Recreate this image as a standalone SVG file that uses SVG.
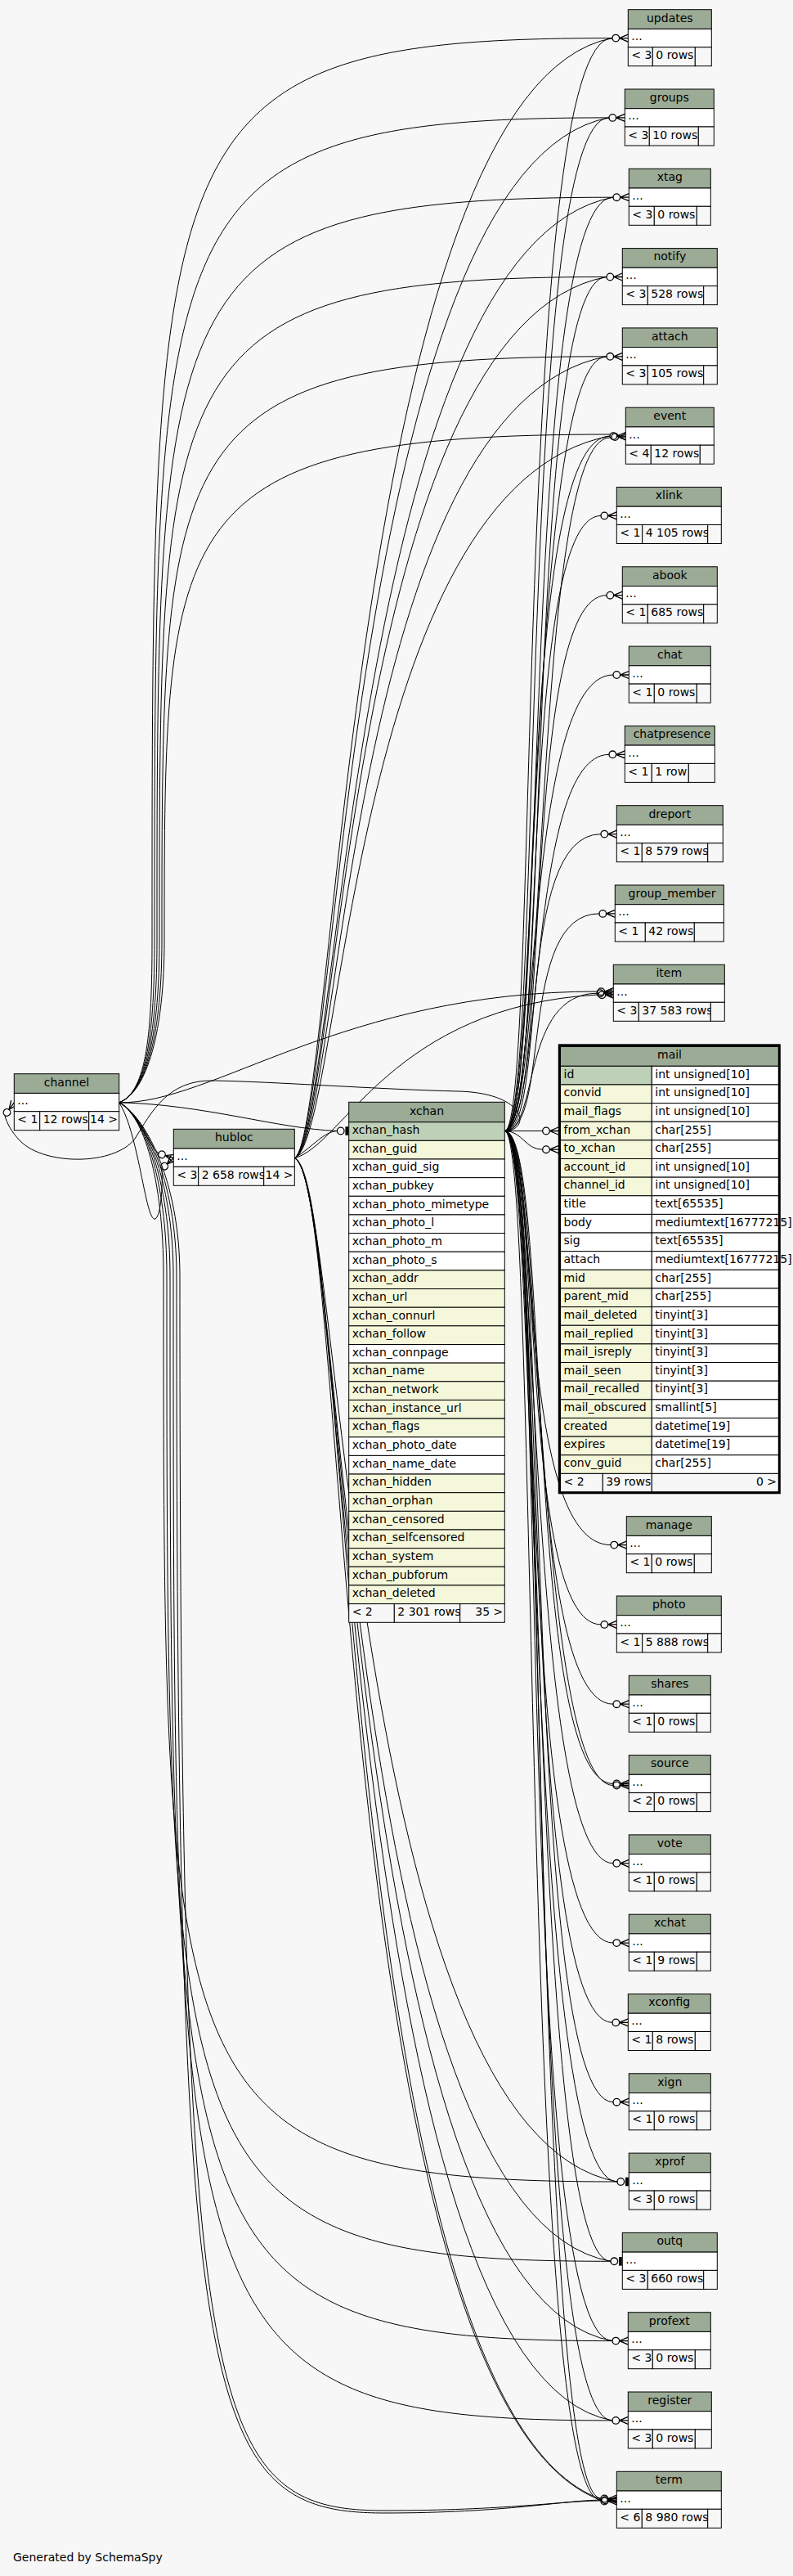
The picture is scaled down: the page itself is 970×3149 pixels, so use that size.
<svg xmlns="http://www.w3.org/2000/svg" width="970" height="3149" viewBox="0 0 970 3149">
<style>
.h{fill:#9bab96;stroke:#000;stroke-width:1}
.w{fill:#fff;stroke:#000;stroke-width:1}
.f{fill:#f7f7f7;stroke:#000;stroke-width:1}
.pk{fill:#bed1b8;stroke:#000;stroke-width:1}
.ix{fill:#f4f7da;stroke:#000;stroke-width:1}
text{font-family:"DejaVu Sans","Liberation Sans",sans-serif;font-size:14px;fill:#000}
.c{text-anchor:middle}
.r{text-anchor:end}
.e{fill:none;stroke:#000;stroke-width:1}
.m{fill:none;stroke:#000;stroke-width:1.3}
</style>
<defs>
<g id="cf"><circle cx="-15" cy="0" r="4.3" class="m"/><path class="m" d="M-10.7,0L0,-4.5M-10.7,0L0,0M-10.7,0L0,4.5"/></g>
<g id="to"><circle cx="-10" cy="0" r="4.3" class="m"/><rect x="-4.3" y="-5.3" width="3.8" height="10.6" fill="#000"/></g>
</defs>
<rect x="0" y="0" width="970" height="3149" fill="#f7f7f7"/>

<g id="edges">
<!-- xchan to top tables -->
<path class="e" d="M617.3,1382.5C660,1382.5 628,46.6 749,46.6"/>
<path class="e" d="M617.3,1382.5C665,1382.5 632,143.9 745,143.9"/>
<path class="e" d="M617.3,1382.5C670,1382.5 636,241.2 750,241.2"/>
<path class="e" d="M617.3,1382.5C675,1382.5 640,338.5 742,338.5"/>
<path class="e" d="M617.3,1382.5C660,1382.5 644,435.8 742,435.8"/>
<path class="e" d="M617.3,1382.5C665,1382.5 628,533.1 746,533.1"/>
<path class="e" d="M617.3,1382.5C672,1382.5 650,535 746,535"/>
<path class="e" d="M617.3,1382.5C670,1382.5 632,630.4 735,630.4"/>
<path class="e" d="M617.3,1382.5C675,1382.5 636,727.7 742,727.7"/>
<path class="e" d="M617.3,1382.5C660,1382.5 640,825 750,825"/>
<path class="e" d="M617.3,1382.5C665,1382.5 644,922.3 745,922.3"/>
<path class="e" d="M617.3,1382.5C670,1382.5 628,1019.6 735,1019.6"/>
<path class="e" d="M617.3,1382.5C675,1382.5 632,1116.9 733,1116.9"/>
<path class="e" d="M617.3,1382.5C660,1382.5 636,1214.2 731,1214.2"/>
<path class="e" d="M617.3,1382.5L663.7,1382.5"/>
<path class="e" d="M617.3,1382.5C640,1383 642,1405.2 663.7,1405.2"/>
<!-- xchan to bottom tables -->
<path class="e" d="M617.3,1382.5C660,1382.5 628,1888.6 747,1888.6"/>
<path class="e" d="M617.3,1382.5C665,1382.5 632,1985.9 735,1985.9"/>
<path class="e" d="M617.3,1382.5C670,1382.5 636,2083.2 750,2083.2"/>
<path class="e" d="M617.3,1382.5C675,1382.5 640,2180.5 750,2180.5"/>
<path class="e" d="M617.3,1382.5C662,1382.5 655,2182.5 750,2182.5"/>
<path class="e" d="M617.3,1382.5C660,1382.5 644,2277.8 750,2277.8"/>
<path class="e" d="M617.3,1382.5C665,1382.5 628,2375.1 750,2375.1"/>
<path class="e" d="M617.3,1382.5C670,1382.5 632,2472.4 749,2472.4"/>
<path class="e" d="M617.3,1382.5C675,1382.5 636,2569.7 750,2569.7"/>
<path class="e" d="M617.3,1382.5C660,1382.5 640,2667 755,2667"/>
<path class="e" d="M617.3,1382.5C665,1382.5 644,2764.3 747,2764.3"/>
<path class="e" d="M617.3,1382.5C670,1382.5 628,2861.6 749,2861.6"/>
<path class="e" d="M617.3,1382.5C675,1382.5 632,2958.9 749,2958.9"/>
<path class="e" d="M617.3,1382.5C660,1382.5 636,3056.2 735,3056.2"/>
<path class="e" d="M617.3,1382.5C668,1382.5 648,3054 735,3054"/>
<!-- xchan to channel loop -->
<path class="e" d="M617.3,1382.5C650,1382 645,1336 560,1334C470,1332 330,1322 260,1321C205,1320 185,1360 165,1392C140,1425 55,1425 25,1395C14,1384 8,1372 6,1364"/>
<!-- channel to top tables -->
<path class="e" d="M145.7,1347.8C180,1335 186,1260 186,1150C186,146.6 186,46.6 749,46.6"/>
<path class="e" d="M145.7,1347.8C180,1335 189,1260 189,1150C189,243.9 189,143.9 745,143.9"/>
<path class="e" d="M145.7,1347.8C180,1335 192,1260 192,1150C192,341.2 192,241.2 750,241.2"/>
<path class="e" d="M145.7,1347.8C180,1335 195,1260 195,1150C195,438.5 195,338.5 742,338.5"/>
<path class="e" d="M145.7,1347.8C180,1335 198,1260 198,1150C198,535.8 198,435.8 742,435.8"/>
<path class="e" d="M145.7,1347.8C180,1335 201,1260 201,1150C201,633.1 201,531 746,531"/>
<path class="e" d="M145.7,1347.8C260,1350 420,1212 731,1212"/>
<!-- channel to bottom tables -->
<path class="e" d="M145.7,1347.8C175,1362 200,1440 200,1560C200,2567 200,2667 755,2667"/>
<path class="e" d="M145.7,1347.8C175,1362 204,1440 204,1560C204,2664.3 204,2764.3 747,2764.3"/>
<path class="e" d="M145.7,1347.8C175,1362 208,1440 208,1560C208,2761.6 208,2861.6 749,2861.6"/>
<path class="e" d="M145.7,1347.8C175,1362 212,1440 212,1560C212,2858.9 212,2958.9 749,2958.9"/>
<path class="e" d="M145.7,1347.8C175,1362 216,1440 216,1560C216,2950 246,3072 470,3072C620,3072 690,3056.2 735,3056.2"/>
<path class="e" d="M145.7,1347.8C175,1362 220,1440 220,1560C220,2950 250,3069 470,3069C620,3069 690,3057 735,3057"/>
<!-- channel to xchan and hubloc -->
<path class="e" d="M145.7,1347.8C250,1350 340,1380 412.4,1382.5"/>
<path class="e" d="M145.7,1347.8C165,1358 180,1395 193.9,1410"/>
<path class="e" d="M145.7,1347.8C170,1385 178,1495 190,1490C197,1486 199,1450 198,1428.6"/>
<!-- hubloc to top tables -->
<path class="e" d="M360.3,1415.7C410,1390 429,106.6 749,46.6"/>
<path class="e" d="M360.3,1415.7C412,1390 425,203.9 745,143.9"/>
<path class="e" d="M360.3,1415.7C414,1390 430,301.2 750,241.2"/>
<path class="e" d="M360.3,1415.7C416,1390 422,398.5 742,338.5"/>
<path class="e" d="M360.3,1415.7C418,1390 422,495.8 742,435.8"/>
<path class="e" d="M360.3,1415.7C420,1390 426,593.1 746,533.1"/>
<path class="e" d="M360.3,1415.7C420,1400 480,1230 731,1216"/>
<path class="e" d="M360.3,1415.7C385,1400 395,1384 412.4,1382.5"/>
<!-- hubloc to bottom tables -->
<path class="e" d="M360.3,1415.7C420,1440 425,2607 755,2667"/>
<path class="e" d="M360.3,1415.7C422,1440 417,2704.3 747,2764.3"/>
<path class="e" d="M360.3,1415.7C424,1440 419,2801.6 749,2861.6"/>
<path class="e" d="M360.3,1415.7C426,1440 419,2898.9 749,2958.9"/>
<path class="e" d="M360.3,1415.7C428,1440 405,2936 735,3056.2"/>
<path class="e" d="M360.3,1415.7C432,1440 410,2940 735,3055"/>
<!-- markers -->
<use href="#cf" transform="translate(768.3,46.6)"/>
<use href="#cf" transform="translate(764.3,143.9)"/>
<use href="#cf" transform="translate(769.3,241.2)"/>
<use href="#cf" transform="translate(761.3,338.5)"/>
<use href="#cf" transform="translate(761.3,435.8)"/>
<use href="#cf" transform="translate(765.3,533.1)"/>
<use href="#cf" transform="translate(767.3,534.1)"/>
<use href="#cf" transform="translate(754.3,630.4)"/>
<use href="#cf" transform="translate(761.3,727.7)"/>
<use href="#cf" transform="translate(769.3,825)"/>
<use href="#cf" transform="translate(764.3,922.3)"/>
<use href="#cf" transform="translate(754.3,1019.6)"/>
<use href="#cf" transform="translate(752.3,1116.9)"/>
<use href="#cf" transform="translate(750.3,1212.2)"/>
<use href="#cf" transform="translate(749.3,1214.2)"/>
<use href="#cf" transform="translate(751.3,1216.2)"/>
<use href="#cf" transform="translate(683,1382.5)"/>
<use href="#cf" transform="translate(683,1405.2)"/>
<use href="#cf" transform="translate(766.3,1888.6)"/>
<use href="#cf" transform="translate(754.3,1985.9)"/>
<use href="#cf" transform="translate(769.3,2083.2)"/>
<use href="#cf" transform="translate(769.3,2180.5)"/>
<use href="#cf" transform="translate(769.3,2182.5)"/>
<use href="#cf" transform="translate(769.3,2277.8)"/>
<use href="#cf" transform="translate(769.3,2375.1)"/>
<use href="#cf" transform="translate(768.3,2472.4)"/>
<use href="#cf" transform="translate(769.3,2569.7)"/>
<use href="#to" transform="translate(769.3,2667)"/>
<use href="#to" transform="translate(761.3,2764.3)"/>
<use href="#cf" transform="translate(768.3,2861.6)"/>
<use href="#cf" transform="translate(768.3,2958.9)"/>
<use href="#cf" transform="translate(754.3,3054.5)"/>
<use href="#cf" transform="translate(755.3,3056.2)"/>
<use href="#cf" transform="translate(754.3,3057.5)"/>
<use href="#to" transform="translate(426.7,1382.5)"/>
<use href="#cf" transform="translate(17.3,1347.8) rotate(-54)"/>
<use href="#cf" transform="translate(212.3,1415.7) rotate(17)"/>
<use href="#cf" transform="translate(212.3,1415.7) rotate(-42)"/>
</g>

<g id="updates">
<rect class="h" x="768.3" y="11.7" width="102" height="23.7"/><text class="c" x="819.3" y="26.55">updates</text>
<rect class="w" x="768.3" y="35.4" width="102" height="22.3"/><text x="772.3" y="49.1">...</text>
<rect class="f" x="768.3" y="57.7" width="30" height="23"/><text x="772.3" y="72.2">&lt; 3</text>
<rect class="f" x="798.3" y="57.7" width="52" height="23"/><text x="802.3" y="72.2">0 rows</text>
<rect class="f" x="850.3" y="57.7" width="20" height="23"/>
</g>
<g id="groups">
<rect class="h" x="764.3" y="109" width="109" height="23.7"/><text class="c" x="818.8" y="123.85">groups</text>
<rect class="w" x="764.3" y="132.7" width="109" height="22.3"/><text x="768.3" y="146.4">...</text>
<rect class="f" x="764.3" y="155" width="30" height="23"/><text x="768.3" y="169.5">&lt; 3</text>
<rect class="f" x="794.3" y="155" width="60" height="23"/><text x="798.3" y="169.5">10 rows</text>
<rect class="f" x="854.3" y="155" width="19" height="23"/>
</g>
<g id="xtag">
<rect class="h" x="769.3" y="206.3" width="100" height="23.7"/><text class="c" x="819.3" y="221.15">xtag</text>
<rect class="w" x="769.3" y="230" width="100" height="22.3"/><text x="773.3" y="243.7">...</text>
<rect class="f" x="769.3" y="252.3" width="31" height="23"/><text x="773.3" y="266.8">&lt; 3</text>
<rect class="f" x="800.3" y="252.3" width="52" height="23"/><text x="804.3" y="266.8">0 rows</text>
<rect class="f" x="852.3" y="252.3" width="17" height="23"/>
</g>
<g id="notify">
<rect class="h" x="761.3" y="303.6" width="116" height="23.7"/><text class="c" x="819.3" y="318.45">notify</text>
<rect class="w" x="761.3" y="327.3" width="116" height="22.3"/><text x="765.3" y="341">...</text>
<rect class="f" x="761.3" y="349.6" width="31" height="23"/><text x="765.3" y="364.1">&lt; 3</text>
<rect class="f" x="792.3" y="349.6" width="68.4" height="23"/><text x="796.3" y="364.1">528 rows</text>
<rect class="f" x="860.7" y="349.6" width="16.6" height="23"/>
</g>
<g id="attach">
<rect class="h" x="761.3" y="400.9" width="116" height="23.7"/><text class="c" x="819.3" y="415.75">attach</text>
<rect class="w" x="761.3" y="424.6" width="116" height="22.3"/><text x="765.3" y="438.3">...</text>
<rect class="f" x="761.3" y="446.9" width="31" height="23"/><text x="765.3" y="461.4">&lt; 3</text>
<rect class="f" x="792.3" y="446.9" width="68.4" height="23"/><text x="796.3" y="461.4">105 rows</text>
<rect class="f" x="860.7" y="446.9" width="16.6" height="23"/>
</g>
<g id="event">
<rect class="h" x="765.3" y="498.2" width="108" height="23.7"/><text class="c" x="819.3" y="513.05">event</text>
<rect class="w" x="765.3" y="521.9" width="108" height="22.3"/><text x="769.3" y="535.6">...</text>
<rect class="f" x="765.3" y="544.2" width="31" height="23"/><text x="769.3" y="558.7">&lt; 4</text>
<rect class="f" x="796.3" y="544.2" width="60" height="23"/><text x="800.3" y="558.7">12 rows</text>
<rect class="f" x="856.3" y="544.2" width="17" height="23"/>
</g>
<g id="xlink">
<rect class="h" x="754.3" y="595.5" width="128" height="23.7"/><text class="c" x="818.3" y="610.35">xlink</text>
<rect class="w" x="754.3" y="619.2" width="128" height="22.3"/><text x="758.3" y="632.9">...</text>
<rect class="f" x="754.3" y="641.5" width="31.4" height="23"/><text x="758.3" y="656">&lt; 1</text>
<rect class="f" x="785.7" y="641.5" width="80" height="23"/><text x="789.7" y="656">4 105 rows</text>
<rect class="f" x="865.7" y="641.5" width="16.6" height="23"/>
</g>
<g id="abook">
<rect class="h" x="761.3" y="692.8" width="116" height="23.7"/><text class="c" x="819.3" y="707.65">abook</text>
<rect class="w" x="761.3" y="716.5" width="116" height="22.3"/><text x="765.3" y="730.2">...</text>
<rect class="f" x="761.3" y="738.8" width="31" height="23"/><text x="765.3" y="753.3">&lt; 1</text>
<rect class="f" x="792.3" y="738.8" width="68.4" height="23"/><text x="796.3" y="753.3">685 rows</text>
<rect class="f" x="860.7" y="738.8" width="16.6" height="23"/>
</g>
<g id="chat">
<rect class="h" x="769.3" y="790.1" width="100" height="23.7"/><text class="c" x="819.3" y="804.95">chat</text>
<rect class="w" x="769.3" y="813.8" width="100" height="22.3"/><text x="773.3" y="827.5">...</text>
<rect class="f" x="769.3" y="836.1" width="31" height="23"/><text x="773.3" y="850.6">&lt; 1</text>
<rect class="f" x="800.3" y="836.1" width="52" height="23"/><text x="804.3" y="850.6">0 rows</text>
<rect class="f" x="852.3" y="836.1" width="17" height="23"/>
</g>
<g id="chatpresence">
<rect class="h" x="764.3" y="887.4" width="110" height="23.7"/><text class="c" x="822" y="902.25">chatpresence</text>
<rect class="w" x="764.3" y="911.1" width="110" height="22.3"/><text x="768.3" y="924.8">...</text>
<rect class="f" x="764.3" y="933.4" width="33" height="23"/><text x="768.3" y="947.9">&lt; 1</text>
<rect class="f" x="797.3" y="933.4" width="45" height="23"/><text x="801.3" y="947.9">1 row</text>
<rect class="f" x="842.3" y="933.4" width="32" height="23"/>
</g>
<g id="dreport">
<rect class="h" x="754.3" y="984.7" width="130" height="23.7"/><text class="c" x="819.3" y="999.55">dreport</text>
<rect class="w" x="754.3" y="1008.4" width="130" height="22.3"/><text x="758.3" y="1022.1">...</text>
<rect class="f" x="754.3" y="1030.7" width="31" height="23"/><text x="758.3" y="1045.2">&lt; 1</text>
<rect class="f" x="785.3" y="1030.7" width="80.4" height="23"/><text x="789.3" y="1045.2">8 579 rows</text>
<rect class="f" x="865.7" y="1030.7" width="18.6" height="23"/>
</g>
<g id="group_member">
<rect class="h" x="752.3" y="1082" width="133" height="23.7"/><text class="c" x="822" y="1096.85">group_member</text>
<rect class="w" x="752.3" y="1105.7" width="133" height="22.3"/><text x="756.3" y="1119.4">...</text>
<rect class="f" x="752.3" y="1128" width="37" height="23"/><text x="756.3" y="1142.5">&lt; 1</text>
<rect class="f" x="789.3" y="1128" width="60" height="23"/><text x="793.3" y="1142.5">42 rows</text>
<rect class="f" x="849.3" y="1128" width="36" height="23"/>
</g>
<g id="item">
<rect class="h" x="750.3" y="1179.3" width="136" height="23.7"/><text class="c" x="818.3" y="1194.15">item</text>
<rect class="w" x="750.3" y="1203" width="136" height="22.3"/><text x="754.3" y="1216.7">...</text>
<rect class="f" x="750.3" y="1225.3" width="31" height="23"/><text x="754.3" y="1239.8">&lt; 3</text>
<rect class="f" x="781.3" y="1225.3" width="88" height="23"/><text x="785.3" y="1239.8">37 583 rows</text>
<rect class="f" x="869.3" y="1225.3" width="17" height="23"/>
</g>

<g id="mail">
<rect class="h" x="685.5" y="1279.5" width="267" height="23.8"/><text class="c" x="819" y="1294.4">mail</text>
<rect class="pk" x="685.5" y="1303.3" width="111.8" height="22.64"/><rect class="w" x="797.3" y="1303.3" width="155.2" height="22.64"/><text x="689.5" y="1317.6">id</text><text x="801.3" y="1317.6">int unsigned[10]</text>
<rect class="ix" x="685.5" y="1325.94" width="111.8" height="22.64"/><rect class="w" x="797.3" y="1325.94" width="155.2" height="22.64"/><text x="689.5" y="1340.24">convid</text><text x="801.3" y="1340.24">int unsigned[10]</text>
<rect class="ix" x="685.5" y="1348.58" width="111.8" height="22.64"/><rect class="w" x="797.3" y="1348.58" width="155.2" height="22.64"/><text x="689.5" y="1362.88">mail_flags</text><text x="801.3" y="1362.88">int unsigned[10]</text>
<rect class="ix" x="685.5" y="1371.22" width="111.8" height="22.64"/><rect class="w" x="797.3" y="1371.22" width="155.2" height="22.64"/><text x="689.5" y="1385.52">from_xchan</text><text x="801.3" y="1385.52">char[255]</text>
<rect class="ix" x="685.5" y="1393.86" width="111.8" height="22.64"/><rect class="w" x="797.3" y="1393.86" width="155.2" height="22.64"/><text x="689.5" y="1408.16">to_xchan</text><text x="801.3" y="1408.16">char[255]</text>
<rect class="ix" x="685.5" y="1416.5" width="111.8" height="22.64"/><rect class="w" x="797.3" y="1416.5" width="155.2" height="22.64"/><text x="689.5" y="1430.8">account_id</text><text x="801.3" y="1430.8">int unsigned[10]</text>
<rect class="ix" x="685.5" y="1439.14" width="111.8" height="22.64"/><rect class="w" x="797.3" y="1439.14" width="155.2" height="22.64"/><text x="689.5" y="1453.44">channel_id</text><text x="801.3" y="1453.44">int unsigned[10]</text>
<rect class="w" x="685.5" y="1461.78" width="111.8" height="22.64"/><rect class="w" x="797.3" y="1461.78" width="155.2" height="22.64"/><text x="689.5" y="1476.08">title</text><text x="801.3" y="1476.08">text[65535]</text>
<rect class="w" x="685.5" y="1484.42" width="111.8" height="22.64"/><rect class="w" x="797.3" y="1484.42" width="155.2" height="22.64"/><text x="689.5" y="1498.72">body</text><text x="801.3" y="1498.72">mediumtext[16777215]</text>
<rect class="w" x="685.5" y="1507.06" width="111.8" height="22.64"/><rect class="w" x="797.3" y="1507.06" width="155.2" height="22.64"/><text x="689.5" y="1521.36">sig</text><text x="801.3" y="1521.36">text[65535]</text>
<rect class="w" x="685.5" y="1529.7" width="111.8" height="22.64"/><rect class="w" x="797.3" y="1529.7" width="155.2" height="22.64"/><text x="689.5" y="1544">attach</text><text x="801.3" y="1544">mediumtext[16777215]</text>
<rect class="ix" x="685.5" y="1552.34" width="111.8" height="22.64"/><rect class="w" x="797.3" y="1552.34" width="155.2" height="22.64"/><text x="689.5" y="1566.64">mid</text><text x="801.3" y="1566.64">char[255]</text>
<rect class="ix" x="685.5" y="1574.98" width="111.8" height="22.64"/><rect class="w" x="797.3" y="1574.98" width="155.2" height="22.64"/><text x="689.5" y="1589.28">parent_mid</text><text x="801.3" y="1589.28">char[255]</text>
<rect class="ix" x="685.5" y="1597.62" width="111.8" height="22.64"/><rect class="w" x="797.3" y="1597.62" width="155.2" height="22.64"/><text x="689.5" y="1611.92">mail_deleted</text><text x="801.3" y="1611.92">tinyint[3]</text>
<rect class="ix" x="685.5" y="1620.26" width="111.8" height="22.64"/><rect class="w" x="797.3" y="1620.26" width="155.2" height="22.64"/><text x="689.5" y="1634.56">mail_replied</text><text x="801.3" y="1634.56">tinyint[3]</text>
<rect class="ix" x="685.5" y="1642.9" width="111.8" height="22.64"/><rect class="w" x="797.3" y="1642.9" width="155.2" height="22.64"/><text x="689.5" y="1657.2">mail_isreply</text><text x="801.3" y="1657.2">tinyint[3]</text>
<rect class="ix" x="685.5" y="1665.54" width="111.8" height="22.64"/><rect class="w" x="797.3" y="1665.54" width="155.2" height="22.64"/><text x="689.5" y="1679.84">mail_seen</text><text x="801.3" y="1679.84">tinyint[3]</text>
<rect class="ix" x="685.5" y="1688.18" width="111.8" height="22.64"/><rect class="w" x="797.3" y="1688.18" width="155.2" height="22.64"/><text x="689.5" y="1702.48">mail_recalled</text><text x="801.3" y="1702.48">tinyint[3]</text>
<rect class="ix" x="685.5" y="1710.82" width="111.8" height="22.64"/><rect class="w" x="797.3" y="1710.82" width="155.2" height="22.64"/><text x="689.5" y="1725.12">mail_obscured</text><text x="801.3" y="1725.12">smallint[5]</text>
<rect class="ix" x="685.5" y="1733.46" width="111.8" height="22.64"/><rect class="w" x="797.3" y="1733.46" width="155.2" height="22.64"/><text x="689.5" y="1747.76">created</text><text x="801.3" y="1747.76">datetime[19]</text>
<rect class="ix" x="685.5" y="1756.1" width="111.8" height="22.64"/><rect class="w" x="797.3" y="1756.1" width="155.2" height="22.64"/><text x="689.5" y="1770.4">expires</text><text x="801.3" y="1770.4">datetime[19]</text>
<rect class="ix" x="685.5" y="1778.74" width="111.8" height="22.64"/><rect class="w" x="797.3" y="1778.74" width="155.2" height="22.64"/><text x="689.5" y="1793.04">conv_guid</text><text x="801.3" y="1793.04">char[255]</text>
<rect class="f" x="685.5" y="1801.38" width="51.8" height="22.6"/><text x="689.5" y="1815.7">&lt; 2</text>
<rect class="f" x="737.3" y="1801.38" width="60" height="22.6"/><text x="741.3" y="1815.7">39 rows</text>
<rect class="f" x="797.3" y="1801.38" width="155.2" height="22.6"/><text class="r" x="950" y="1815.7">0 &gt;</text>
<rect x="684.3" y="1277.8" width="269" height="547" fill="none" stroke="#000" stroke-width="3"/>
</g>

<g id="xchan">
<rect class="h" x="426.7" y="1347.3" width="190.6" height="24.4"/><text class="c" x="522" y="1362.5">xchan</text>
<rect class="pk" x="426.7" y="1371.7" width="190.6" height="22.65"/><text x="430.7" y="1386">xchan_hash</text>
<rect class="ix" x="426.7" y="1394.35" width="190.6" height="22.65"/><text x="430.7" y="1408.65">xchan_guid</text>
<rect class="w" x="426.7" y="1417" width="190.6" height="22.65"/><text x="430.7" y="1431.3">xchan_guid_sig</text>
<rect class="w" x="426.7" y="1439.65" width="190.6" height="22.65"/><text x="430.7" y="1453.95">xchan_pubkey</text>
<rect class="w" x="426.7" y="1462.3" width="190.6" height="22.65"/><text x="430.7" y="1476.6">xchan_photo_mimetype</text>
<rect class="w" x="426.7" y="1484.95" width="190.6" height="22.65"/><text x="430.7" y="1499.25">xchan_photo_l</text>
<rect class="w" x="426.7" y="1507.6" width="190.6" height="22.65"/><text x="430.7" y="1521.9">xchan_photo_m</text>
<rect class="w" x="426.7" y="1530.25" width="190.6" height="22.65"/><text x="430.7" y="1544.55">xchan_photo_s</text>
<rect class="ix" x="426.7" y="1552.9" width="190.6" height="22.65"/><text x="430.7" y="1567.2">xchan_addr</text>
<rect class="ix" x="426.7" y="1575.55" width="190.6" height="22.65"/><text x="430.7" y="1589.85">xchan_url</text>
<rect class="ix" x="426.7" y="1598.2" width="190.6" height="22.65"/><text x="430.7" y="1612.5">xchan_connurl</text>
<rect class="ix" x="426.7" y="1620.85" width="190.6" height="22.65"/><text x="430.7" y="1635.15">xchan_follow</text>
<rect class="w" x="426.7" y="1643.5" width="190.6" height="22.65"/><text x="430.7" y="1657.8">xchan_connpage</text>
<rect class="ix" x="426.7" y="1666.15" width="190.6" height="22.65"/><text x="430.7" y="1680.45">xchan_name</text>
<rect class="ix" x="426.7" y="1688.8" width="190.6" height="22.65"/><text x="430.7" y="1703.1">xchan_network</text>
<rect class="ix" x="426.7" y="1711.45" width="190.6" height="22.65"/><text x="430.7" y="1725.75">xchan_instance_url</text>
<rect class="ix" x="426.7" y="1734.1" width="190.6" height="22.65"/><text x="430.7" y="1748.4">xchan_flags</text>
<rect class="w" x="426.7" y="1756.75" width="190.6" height="22.65"/><text x="430.7" y="1771.05">xchan_photo_date</text>
<rect class="w" x="426.7" y="1779.4" width="190.6" height="22.65"/><text x="430.7" y="1793.7">xchan_name_date</text>
<rect class="ix" x="426.7" y="1802.05" width="190.6" height="22.65"/><text x="430.7" y="1816.35">xchan_hidden</text>
<rect class="ix" x="426.7" y="1824.7" width="190.6" height="22.65"/><text x="430.7" y="1839">xchan_orphan</text>
<rect class="ix" x="426.7" y="1847.35" width="190.6" height="22.65"/><text x="430.7" y="1861.65">xchan_censored</text>
<rect class="ix" x="426.7" y="1870" width="190.6" height="22.65"/><text x="430.7" y="1884.3">xchan_selfcensored</text>
<rect class="ix" x="426.7" y="1892.65" width="190.6" height="22.65"/><text x="430.7" y="1906.95">xchan_system</text>
<rect class="ix" x="426.7" y="1915.3" width="190.6" height="22.65"/><text x="430.7" y="1929.6">xchan_pubforum</text>
<rect class="ix" x="426.7" y="1937.95" width="190.6" height="22.65"/><text x="430.7" y="1952.25">xchan_deleted</text>
<rect class="f" x="426.7" y="1960.6" width="55.6" height="22.7"/><text x="430.7" y="1975">&lt; 2</text>
<rect class="f" x="482.3" y="1960.6" width="80.4" height="22.7"/><text x="486.3" y="1975">2 301 rows</text>
<rect class="f" x="562.7" y="1960.6" width="54.6" height="22.7"/><text class="r" x="615.3" y="1975">35 &gt;</text>
</g>

<g id="channel">
<rect class="h" x="17.3" y="1312.7" width="128.4" height="23.7"/><text class="c" x="81.5" y="1327.55">channel</text>
<rect class="w" x="17.3" y="1336.4" width="128.4" height="22.3"/><text x="21.3" y="1350.1">...</text>
<rect class="f" x="17.3" y="1358.7" width="31.4" height="23"/><text x="21.3" y="1373.2">&lt; 1</text>
<rect class="f" x="48.7" y="1358.7" width="60" height="23"/><text x="52.7" y="1373.2">12 rows</text>
<rect class="f" x="108.7" y="1358.7" width="37" height="23"/><text class="r" x="144" y="1373.2">14 &gt;</text>
</g>
<g id="hubloc">
<rect class="h" x="212.3" y="1380.3" width="148" height="23.7"/><text class="c" x="286.3" y="1395.15">hubloc</text>
<rect class="w" x="212.3" y="1404" width="148" height="22.3"/><text x="216.3" y="1417.7">...</text>
<rect class="f" x="212.3" y="1426.3" width="30.4" height="23"/><text x="216.3" y="1440.8">&lt; 3</text>
<rect class="f" x="242.7" y="1426.3" width="80" height="23"/><text x="246.7" y="1440.8">2 658 rows</text>
<rect class="f" x="322.7" y="1426.3" width="37.6" height="23"/><text class="r" x="358.5" y="1440.8">14 &gt;</text>
</g>

<g id="manage">
<rect class="h" x="766.3" y="1853.7" width="104" height="23.7"/><text class="c" x="818.3" y="1868.55">manage</text>
<rect class="w" x="766.3" y="1877.4" width="104" height="22.3"/><text x="770.3" y="1891.1">...</text>
<rect class="f" x="766.3" y="1899.7" width="31" height="23"/><text x="770.3" y="1914.2">&lt; 1</text>
<rect class="f" x="797.3" y="1899.7" width="52" height="23"/><text x="801.3" y="1914.2">0 rows</text>
<rect class="f" x="849.3" y="1899.7" width="21" height="23"/>
</g>
<g id="photo">
<rect class="h" x="754.3" y="1951" width="128" height="23.7"/><text class="c" x="818.3" y="1965.85">photo</text>
<rect class="w" x="754.3" y="1974.7" width="128" height="22.3"/><text x="758.3" y="1988.4">...</text>
<rect class="f" x="754.3" y="1997" width="31.4" height="23"/><text x="758.3" y="2011.5">&lt; 1</text>
<rect class="f" x="785.7" y="1997" width="80" height="23"/><text x="789.7" y="2011.5">5 888 rows</text>
<rect class="f" x="865.7" y="1997" width="16.6" height="23"/>
</g>
<g id="shares">
<rect class="h" x="769.3" y="2048.3" width="100" height="23.7"/><text class="c" x="819.3" y="2063.15">shares</text>
<rect class="w" x="769.3" y="2072" width="100" height="22.3"/><text x="773.3" y="2085.7">...</text>
<rect class="f" x="769.3" y="2094.3" width="31" height="23"/><text x="773.3" y="2108.8">&lt; 1</text>
<rect class="f" x="800.3" y="2094.3" width="52" height="23"/><text x="804.3" y="2108.8">0 rows</text>
<rect class="f" x="852.3" y="2094.3" width="17" height="23"/>
</g>
<g id="source">
<rect class="h" x="769.3" y="2145.6" width="100" height="23.7"/><text class="c" x="819.3" y="2160.45">source</text>
<rect class="w" x="769.3" y="2169.3" width="100" height="22.3"/><text x="773.3" y="2183">...</text>
<rect class="f" x="769.3" y="2191.6" width="31" height="23"/><text x="773.3" y="2206.1">&lt; 2</text>
<rect class="f" x="800.3" y="2191.6" width="52" height="23"/><text x="804.3" y="2206.1">0 rows</text>
<rect class="f" x="852.3" y="2191.6" width="17" height="23"/>
</g>
<g id="vote">
<rect class="h" x="769.3" y="2242.9" width="100" height="23.7"/><text class="c" x="819.3" y="2257.75">vote</text>
<rect class="w" x="769.3" y="2266.6" width="100" height="22.3"/><text x="773.3" y="2280.3">...</text>
<rect class="f" x="769.3" y="2288.9" width="31" height="23"/><text x="773.3" y="2303.4">&lt; 1</text>
<rect class="f" x="800.3" y="2288.9" width="52" height="23"/><text x="804.3" y="2303.4">0 rows</text>
<rect class="f" x="852.3" y="2288.9" width="17" height="23"/>
</g>
<g id="xchat">
<rect class="h" x="769.3" y="2340.2" width="100" height="23.7"/><text class="c" x="819.3" y="2355.05">xchat</text>
<rect class="w" x="769.3" y="2363.9" width="100" height="22.3"/><text x="773.3" y="2377.6">...</text>
<rect class="f" x="769.3" y="2386.2" width="31" height="23"/><text x="773.3" y="2400.7">&lt; 1</text>
<rect class="f" x="800.3" y="2386.2" width="52" height="23"/><text x="804.3" y="2400.7">9 rows</text>
<rect class="f" x="852.3" y="2386.2" width="17" height="23"/>
</g>
<g id="xconfig">
<rect class="h" x="768.3" y="2437.5" width="101" height="23.7"/><text class="c" x="818.8" y="2452.35">xconfig</text>
<rect class="w" x="768.3" y="2461.2" width="101" height="22.3"/><text x="772.3" y="2474.9">...</text>
<rect class="f" x="768.3" y="2483.5" width="30" height="23"/><text x="772.3" y="2498">&lt; 1</text>
<rect class="f" x="798.3" y="2483.5" width="52" height="23"/><text x="802.3" y="2498">8 rows</text>
<rect class="f" x="850.3" y="2483.5" width="19" height="23"/>
</g>
<g id="xign">
<rect class="h" x="769.3" y="2534.8" width="100" height="23.7"/><text class="c" x="819.3" y="2549.65">xign</text>
<rect class="w" x="769.3" y="2558.5" width="100" height="22.3"/><text x="773.3" y="2572.2">...</text>
<rect class="f" x="769.3" y="2580.8" width="31" height="23"/><text x="773.3" y="2595.3">&lt; 1</text>
<rect class="f" x="800.3" y="2580.8" width="52" height="23"/><text x="804.3" y="2595.3">0 rows</text>
<rect class="f" x="852.3" y="2580.8" width="17" height="23"/>
</g>
<g id="xprof">
<rect class="h" x="769.3" y="2632.1" width="100" height="23.7"/><text class="c" x="819.3" y="2646.95">xprof</text>
<rect class="w" x="769.3" y="2655.8" width="100" height="22.3"/><text x="773.3" y="2669.5">...</text>
<rect class="f" x="769.3" y="2678.1" width="31" height="23"/><text x="773.3" y="2692.6">&lt; 3</text>
<rect class="f" x="800.3" y="2678.1" width="52" height="23"/><text x="804.3" y="2692.6">0 rows</text>
<rect class="f" x="852.3" y="2678.1" width="17" height="23"/>
</g>
<g id="outq">
<rect class="h" x="761.3" y="2729.4" width="116" height="23.7"/><text class="c" x="819.3" y="2744.25">outq</text>
<rect class="w" x="761.3" y="2753.1" width="116" height="22.3"/><text x="765.3" y="2766.8">...</text>
<rect class="f" x="761.3" y="2775.4" width="31" height="23"/><text x="765.3" y="2789.9">&lt; 3</text>
<rect class="f" x="792.3" y="2775.4" width="68.4" height="23"/><text x="796.3" y="2789.9">660 rows</text>
<rect class="f" x="860.7" y="2775.4" width="16.6" height="23"/>
</g>
<g id="profext">
<rect class="h" x="768.3" y="2826.7" width="101" height="23.7"/><text class="c" x="818.8" y="2841.55">profext</text>
<rect class="w" x="768.3" y="2850.4" width="101" height="22.3"/><text x="772.3" y="2864.1">...</text>
<rect class="f" x="768.3" y="2872.7" width="30" height="23"/><text x="772.3" y="2887.2">&lt; 3</text>
<rect class="f" x="798.3" y="2872.7" width="52" height="23"/><text x="802.3" y="2887.2">0 rows</text>
<rect class="f" x="850.3" y="2872.7" width="19" height="23"/>
</g>
<g id="register">
<rect class="h" x="768.3" y="2924" width="102" height="23.7"/><text class="c" x="819.3" y="2938.85">register</text>
<rect class="w" x="768.3" y="2947.7" width="102" height="22.3"/><text x="772.3" y="2961.4">...</text>
<rect class="f" x="768.3" y="2970" width="30" height="23"/><text x="772.3" y="2984.5">&lt; 3</text>
<rect class="f" x="798.3" y="2970" width="52" height="23"/><text x="802.3" y="2984.5">0 rows</text>
<rect class="f" x="850.3" y="2970" width="20" height="23"/>
</g>
<g id="term">
<rect class="h" x="754.3" y="3021.3" width="128" height="23.7"/><text class="c" x="818.3" y="3036.15">term</text>
<rect class="w" x="754.3" y="3045" width="128" height="22.3"/><text x="758.3" y="3058.7">...</text>
<rect class="f" x="754.3" y="3067.3" width="31" height="23"/><text x="758.3" y="3081.8">&lt; 6</text>
<rect class="f" x="785.3" y="3067.3" width="80.4" height="23"/><text x="789.3" y="3081.8">8 980 rows</text>
<rect class="f" x="865.7" y="3067.3" width="16.6" height="23"/>
</g>

<text x="16" y="3131">Generated by SchemaSpy</text>
</svg>
